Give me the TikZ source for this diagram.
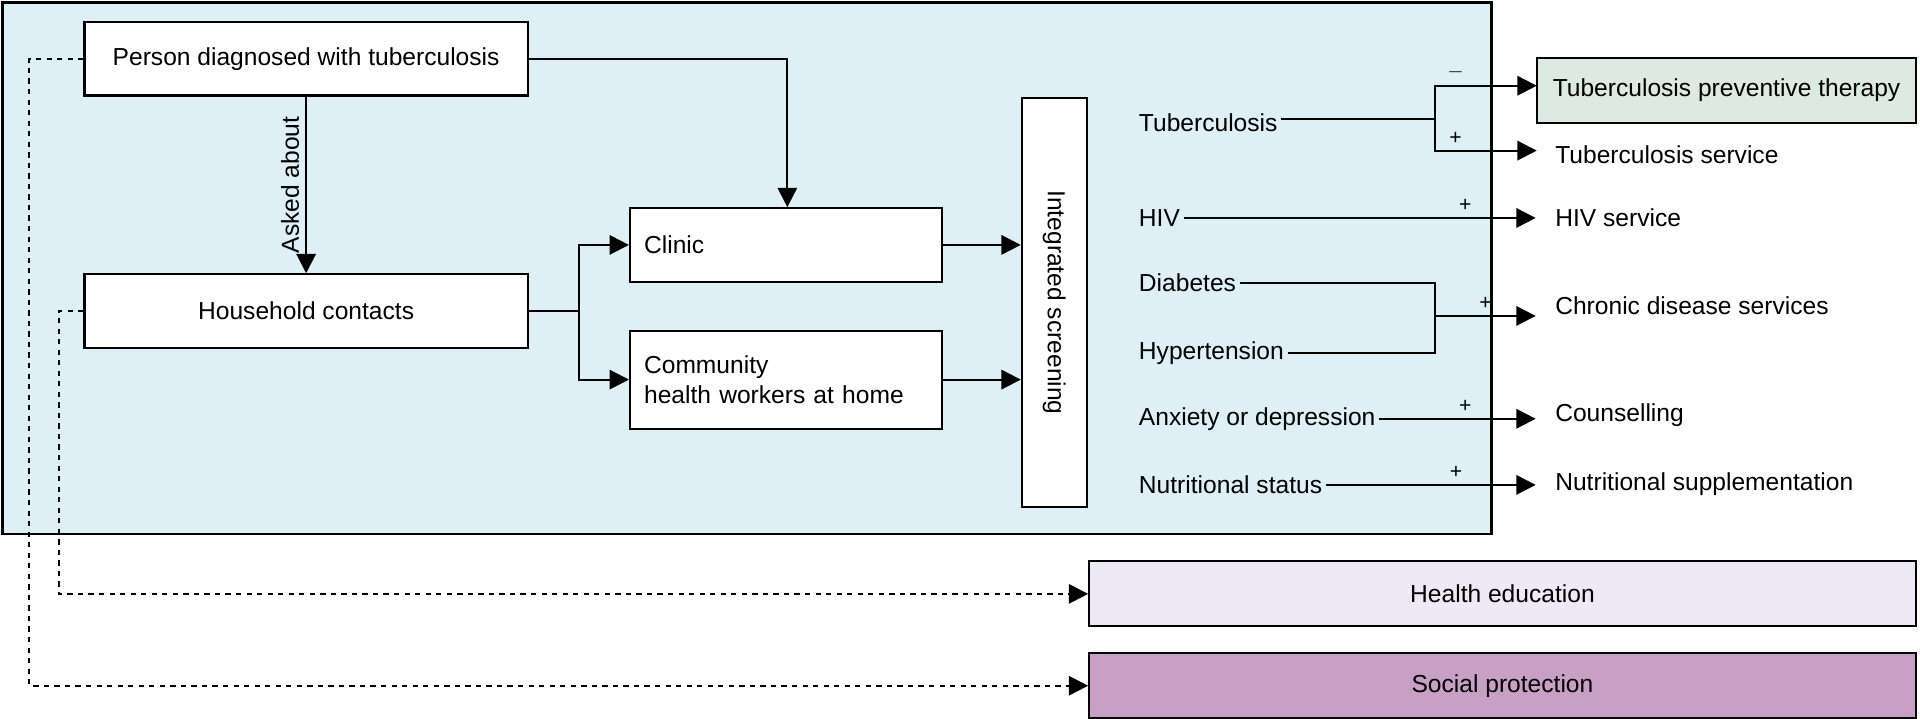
\documentclass[tikz,border=0pt]{standalone}
\usepackage{fontspec}
\setmainfont{Liberation Sans}
\usetikzlibrary{positioning,arrows.meta,calc}
\definecolor{PanelBlue}{RGB}{222,239,246}
\definecolor{TptGreen}{RGB}{221,234,226}
\definecolor{EduLilac}{RGB}{238,234,245}
\definecolor{SocPurple}{RGB}{200,160,198}
\newcommand{\bigtxt}{\fontsize{14}{17.5}\selectfont}
\tikzset{
  % Framed box
  box/.style={draw=black, line width=1.2pt, fill=white, align=center, font=\bigtxt, inner sep=0pt},
  % Plain label
  lbl/.style={font=\bigtxt, anchor=west, inner sep=2pt},
  % Solid arrow
  arr/.style={draw=black, line width=1.2pt, -{Triangle[length=11pt,width=11pt]}},
  % Dashed arrow
  darr/.style={draw=black, line width=1.2pt, dashed, -{Triangle[length=11pt,width=11pt]}},
  line/.style={draw=black, line width=1.2pt},
  sign/.style={font=\large, inner sep=3pt}
}
\begin{document}
\begin{tikzpicture}[x=0.0245cm, y=-0.0245cm]
  \useasboundingbox (0,0) rectangle (1568,587);
  % Panel
  \draw[line width=1.2pt, fill=PanelBlue] (2,2) rectangle (1218,436);
  % Left boxes
  \node[box, minimum width=362*0.0245cm, minimum height=60*0.0245cm] (person) at (250,48) {Person diagnosed with tuberculosis};
  \node[box, minimum width=362*0.0245cm, minimum height=60*0.0245cm] (house) at (250,254) {Household contacts};
  \node[box, minimum width=255*0.0245cm, minimum height=60*0.0245cm, align=left, text width=232*0.0245cm] (clinic) at (642,200) {Clinic};
  \node[box, minimum width=255*0.0245cm, minimum height=80*0.0245cm, align=left, text width=232*0.0245cm] (chw) at (642,310) {Community\\health workers at home};
  \node[box, minimum width=53*0.0245cm, minimum height=334*0.0245cm] (screen) at (861,247) {};
  \node[font=\bigtxt, rotate=-90] at (screen.center) {Integrated screening};
  % Conditions
  \node[lbl] (tb) at (927,100) {Tuberculosis};
  \node[lbl] (hiv) at (927,178) {HIV};
  \node[lbl] (diab) at (927,231) {Diabetes};
  \node[lbl] (hyp) at (927,288) {Hypertension};
  \node[lbl] (anx) at (927,342) {Anxiety or depression};
  \node[lbl] (nut) at (927,396) {Nutritional status};
  % Services
  \node[box, fill=TptGreen, minimum width=310*0.0245cm, minimum height=53*0.0245cm] (tpt) at (1410,74) {Tuberculosis preventive therapy};
  \node[lbl] (tbs) at (1267,126) {Tuberculosis service};
  \node[lbl] (hivs) at (1267,178) {HIV service};
  \node[lbl] (chron) at (1267,250) {Chronic disease services};
  \node[lbl] (couns) at (1267,339) {Counselling};
  \node[lbl] (nsup) at (1267,395) {Nutritional supplementation};
  \node[box, fill=EduLilac, minimum width=675*0.0245cm, minimum height=53*0.0245cm] (edu) at (1227,485) {Health education};
  \node[box, fill=SocPurple, minimum width=675*0.0245cm, minimum height=53*0.0245cm] (soc) at (1227,560) {Social protection};
  % Flow
  \draw[arr] (person.east) -| (clinic.north -| 643,0);
  \draw[arr] (person.south) -- node[font=\bigtxt, rotate=90, above] {Asked about} (house.north);
  \coordinate (split) at (473,254);
  \draw[line] (house.east) -- (split);
  \draw[arr] (split) |- (clinic.west);
  \draw[arr] (split) |- (chw.west);
  \draw[arr] (clinic.east) -- (clinic.east -| screen.west);
  \draw[arr] (chw.east) -- (chw.east -| screen.west);
  % Screening outcomes
  \coordinate (tbj) at (1172,97);
  \coordinate (tbm) at (1255,70);
  \coordinate (tbp) at (1255,123);
  \draw[line] (tb.east |- tbj) -- (tbj);
  \draw[arr] (tbj) |- (tbm) node[sign, pos=0.6, above] {$-$};
  \draw[arr] (tbj) |- (tbp) node[sign, pos=0.6, above] {+};
  \draw[arr] (hiv.east) -- (hiv.east -| tpt.west) node[sign, pos=0.8, above] {+};
  \coordinate (cdj) at (1172,258);
  \draw[line] (diab.east) -| (cdj);
  \draw[line] (hyp.east) -| (cdj);
  \draw[arr] (cdj) -- (cdj -| tpt.west) node[sign, midway, above] {+};
  \draw[arr] (anx.east) -- (anx.east -| tpt.west) node[sign, pos=0.55, above] {+};
  \draw[arr] (nut.east) -- (nut.east -| tpt.west) node[sign, pos=0.62, above] {+};
  % Dashed links
  \draw[darr] (person.west) -- (24,48) |- (soc.west);
  \draw[darr] (house.west) -- (48,254) |- (edu.west);
\end{tikzpicture}
\end{document}
